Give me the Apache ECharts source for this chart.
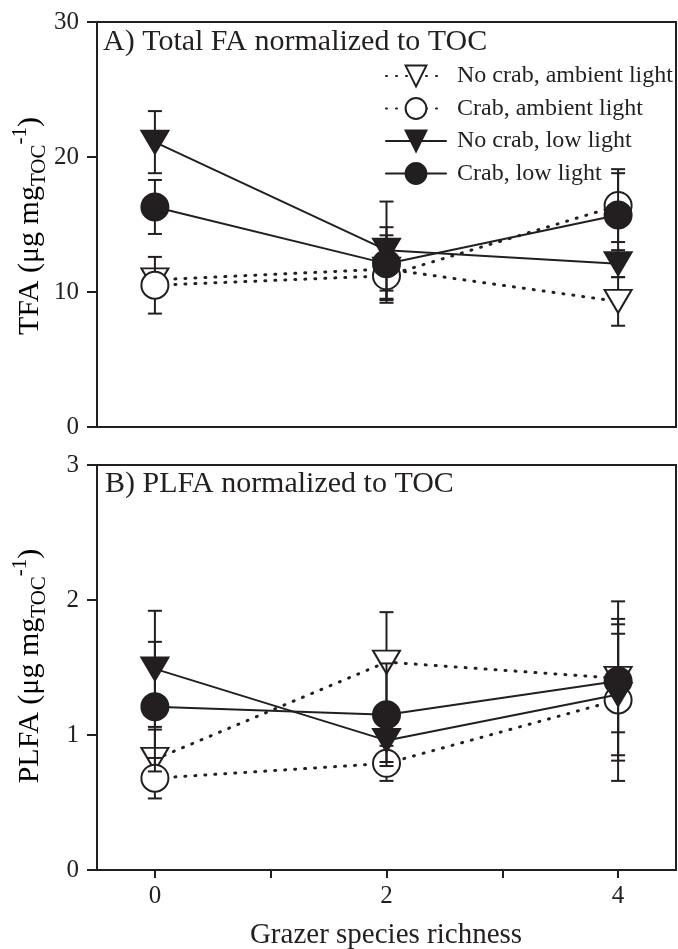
<!DOCTYPE html>
<html><head><meta charset="utf-8">
<script src="https://cdn.jsdelivr.net/npm/echarts@6.0.0/dist/echarts.min.js"></script>
<style>html,body{margin:0;padding:0;background:#fff}#c{width:678px;height:949px}</style>
</head><body><div id="c"></div>
<script>
// ---- data ----
const richness = [0, 2, 4];
const xTickValues = [0, 1, 2, 3, 4];
const xLabelValues = [0, 2, 4];
const seriesNames = ['No crab, ambient light', 'Crab, ambient light', 'No crab, low light', 'Crab, low light'];

// Panel A: TFA (ug mg TOC^-1)
const tfaNoCrabAmbient = [10.9, 11.7, 9.3];
const tfaNoCrabAmbientErr = [0.8, 2.5, 1.8];
const tfaCrabAmbient = [10.5, 11.2, 16.4];
const tfaCrabAmbientErr = [2.1, 1.1, 2.7];
const tfaNoCrabLow = [21.1, 13.1, 12.1];
const tfaNoCrabLowErr = [2.3, 3.6, 1.0];
const tfaCrabLow = [16.3, 12.1, 15.7];
const tfaCrabLowErr = [2.0, 2.7, 3.1];

// Panel B: PLFA (ug mg TOC^-1)
const plfaNoCrabAmbient = [0.82, 1.54, 1.42];
const plfaNoCrabAmbientErr = [0.22, 0.37, 0.40];
const plfaCrabAmbient = [0.68, 0.79, 1.26];
const plfaCrabAmbientErr = [0.15, 0.13, 0.60];
const plfaNoCrabLow = [1.49, 0.96, 1.30];
const plfaNoCrabLowErr = [0.43, 0.16, 0.45];
const plfaCrabLow = [1.21, 1.15, 1.40];
const plfaCrabLowErr = [0.48, 0.38, 0.59];

const tfaTicks = [0, 10, 20, 30];
const plfaTicks = [0, 1, 2, 3];

// ---- style ----
const ink = '#231f20';
const FONT = '"Liberation Serif", "Times New Roman", serif';
const dotted = [1, 9];

const styles = [
  {symbol: 'triangle', rotate: 180, size: [27, 23], fill: '#fff', dash: dotted, lw: 3},
  {symbol: 'circle', rotate: 0, size: 27, fill: '#fff', dash: dotted, lw: 3},
  {symbol: 'triangle', rotate: 180, size: [27, 23], fill: ink, dash: 'solid', lw: 2},
  {symbol: 'circle', rotate: 0, size: 27, fill: ink, dash: 'solid', lw: 2}
];

function errRender(params, api) {
  const x = api.value(0), y = api.value(1), e = api.value(2);
  const top = api.coord([x, y + e]);
  const bot = api.coord([x, y - e]);
  const w = 7;
  const st = {stroke: ink, lineWidth: 2};
  return {type: 'group', children: [
    {type: 'line', shape: {x1: top[0], y1: top[1], x2: bot[0], y2: bot[1]}, style: st},
    {type: 'line', shape: {x1: top[0] - w, y1: top[1], x2: top[0] + w, y2: top[1]}, style: st},
    {type: 'line', shape: {x1: bot[0] - w, y1: bot[1], x2: bot[0] + w, y2: bot[1]}, style: st}
  ]};
}

function panelSeries(gi, valsList, errsList) {
  const out = [];
  valsList.forEach((vals, i) => {
    const s = styles[i];
    const errData = richness.map((x, k) => [x, vals[k], errsList[i][k]]);
    out.push({
      type: 'custom', name: seriesNames[i] + ' err', xAxisIndex: gi, yAxisIndex: gi,
      renderItem: errRender, data: errData, encode: {x: 0, y: 1},
      z: 2 + i * 2, silent: true
    });
    out.push({
      type: 'line', name: seriesNames[i], xAxisIndex: gi, yAxisIndex: gi,
      data: richness.map((x, k) => [x, vals[k]]),
      symbol: s.symbol, symbolRotate: s.rotate, symbolSize: s.size,
      itemStyle: {color: s.fill, borderColor: ink, borderWidth: 2, opacity: 1},
      lineStyle: {color: ink, width: s.lw, type: s.dash, cap: 'round'},
      emphasis: {disabled: true}, silent: true,
      z: 3 + i * 2
    });
  });
  return out;
}

const chart = echarts.init(document.getElementById('c'), null, {renderer: 'canvas'});

const axisLineStyle = {show: true, onZero: false, lineStyle: {color: ink, width: 2}};
function yAxis(gi, ticks) {
  return {
    gridIndex: gi, type: 'value', min: ticks[0], max: ticks[ticks.length - 1], interval: ticks[1] - ticks[0],
    axisLine: axisLineStyle,
    axisTick: {show: true, length: 10, lineStyle: {color: ink, width: 2}},
    axisLabel: {color: ink, fontSize: 25, fontFamily: FONT, margin: 18},
    splitLine: {show: false}
  };
}

const subRich = {
  a: {fontSize: 30, fontFamily: FONT, color: ink, lineHeight: 40, verticalAlign: 'middle'},
  sub: {fontSize: 21, fontFamily: FONT, color: ink, lineHeight: 21, verticalAlign: 'bottom'},
  sup: {fontSize: 21, fontFamily: FONT, color: ink, lineHeight: 21, verticalAlign: 'top'}
};

const option = {
  animation: false,
  backgroundColor: '#fff',
  grid: [
    {left: 97, top: 22, width: 579, height: 405, show: true, borderColor: ink, borderWidth: 2, backgroundColor: 'transparent'},
    {left: 97, top: 465, width: 579, height: 405, show: true, borderColor: ink, borderWidth: 2, backgroundColor: 'transparent'}
  ],
  xAxis: [
    {gridIndex: 0, type: 'value', min: -0.5, max: 4.5, axisLine: axisLineStyle,
     axisTick: {show: false}, axisLabel: {show: false}, splitLine: {show: false}},
    {gridIndex: 1, type: 'value', min: -0.5, max: 4.5, axisLine: axisLineStyle,
     axisTick: {show: true, customValues: xTickValues, length: 8, lineStyle: {color: ink, width: 2}},
     axisLabel: {show: true, customValues: xLabelValues, color: ink, fontSize: 25, fontFamily: FONT, margin: 14},
     splitLine: {show: false}}
  ],
  yAxis: [yAxis(0, tfaTicks), yAxis(1, plfaTicks)],
  legend: {
    show: true, orient: 'vertical', left: 380, top: 59,
    itemWidth: 60, itemHeight: 26, itemGap: 8.5,
    data: seriesNames,
    textStyle: {color: ink, fontSize: 24, fontFamily: FONT, padding: [0, 0, 0, 6]},
    selectedMode: false
  },
  graphic: [
    {type: 'text', left: 103, top: 27, style: {text: 'A) Total FA normalized to TOC', fill: ink, font: '30px ' + FONT}},
    {type: 'text', left: 105, top: 469, style: {text: 'B) PLFA normalized to TOC', fill: ink, font: '30px ' + FONT}},
    {type: 'text', x: 30, y: 226, rotation: Math.PI / 2,
     style: {text: '{a|TFA (μg mg}{sub|TOC}{sup|-1}{a|)}', rich: subRich, align: 'center', verticalAlign: 'middle'}},
    {type: 'text', x: 30, y: 666, rotation: Math.PI / 2,
     style: {text: '{a|PLFA (μg mg}{sub|TOC}{sup|-1}{a|)}', rich: subRich, align: 'center', verticalAlign: 'middle'}},
    {type: 'text', x: 386, y: 935,
     style: {text: 'Grazer species richness', fill: ink, font: '29px ' + FONT, align: 'center', verticalAlign: 'middle'}}
  ],
  series: [].concat(
    panelSeries(0, [tfaNoCrabAmbient, tfaCrabAmbient, tfaNoCrabLow, tfaCrabLow],
                   [tfaNoCrabAmbientErr, tfaCrabAmbientErr, tfaNoCrabLowErr, tfaCrabLowErr]),
    panelSeries(1, [plfaNoCrabAmbient, plfaCrabAmbient, plfaNoCrabLow, plfaCrabLow],
                   [plfaNoCrabAmbientErr, plfaCrabAmbientErr, plfaNoCrabLowErr, plfaCrabLowErr])
  )
};
chart.setOption(option);
</script>
</body></html>
